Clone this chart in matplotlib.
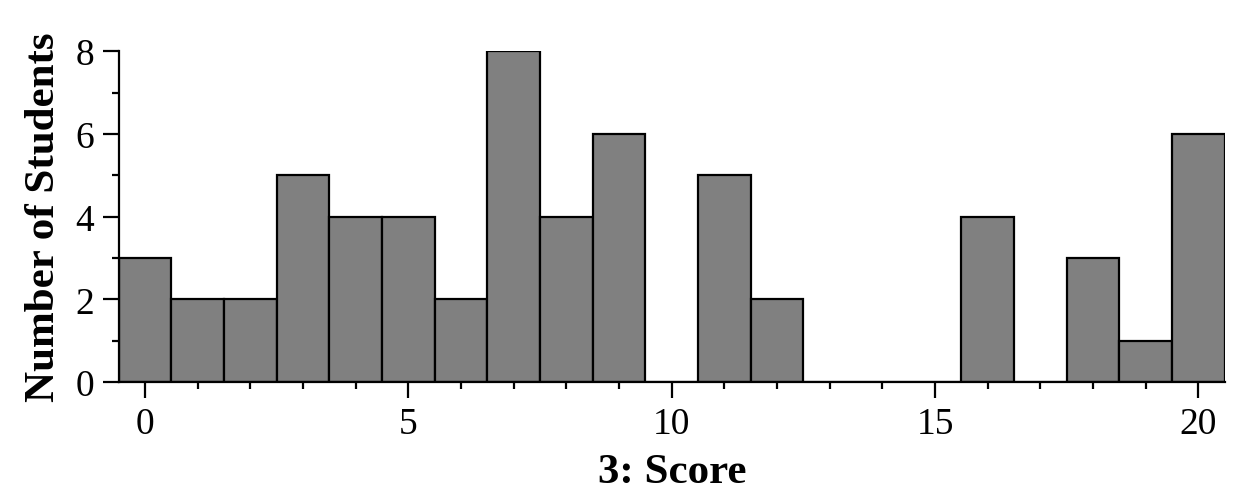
import matplotlib
matplotlib.use('Agg')
import matplotlib.pyplot as plt
from matplotlib.ticker import MultipleLocator

# Score distribution (count of students per score)
scores = list(range(0, 21))
counts = [3, 2, 2, 5, 4, 4, 2, 8, 4, 6, 0, 5, 2, 0, 0, 0, 4, 0, 3, 1, 6]

plt.rcParams['font.family'] = ['Liberation Serif', 'DejaVu Serif']

fig = plt.figure(figsize=(12.44, 5.02), dpi=100)
ax = fig.add_axes([0.0955, 0.237, 0.889, 0.659])

ax.bar(scores, counts, width=1.0, color='#808080', edgecolor='black', linewidth=1.6)

ax.set_xlim(-0.5, 20.5)
ax.set_ylim(0, 8)

ax.spines['top'].set_visible(False)
ax.spines['right'].set_visible(False)
ax.spines['left'].set_linewidth(1.6)
ax.spines['bottom'].set_linewidth(1.6)

ax.xaxis.set_major_locator(MultipleLocator(5))
ax.xaxis.set_minor_locator(MultipleLocator(1))
ax.yaxis.set_major_locator(MultipleLocator(2))
ax.yaxis.set_minor_locator(MultipleLocator(1))
ax.tick_params(which='major', direction='out', length=11.5, width=1.6, labelsize=27, pad=6)
ax.tick_params(which='minor', direction='out', length=5, width=1.6)

ax.set_xlabel('3: Score', fontsize=31, fontweight='bold', labelpad=9)
ax.set_ylabel('Number of Students', fontsize=31, fontweight='bold', labelpad=9)

fig.savefig('out.png', dpi=100)
